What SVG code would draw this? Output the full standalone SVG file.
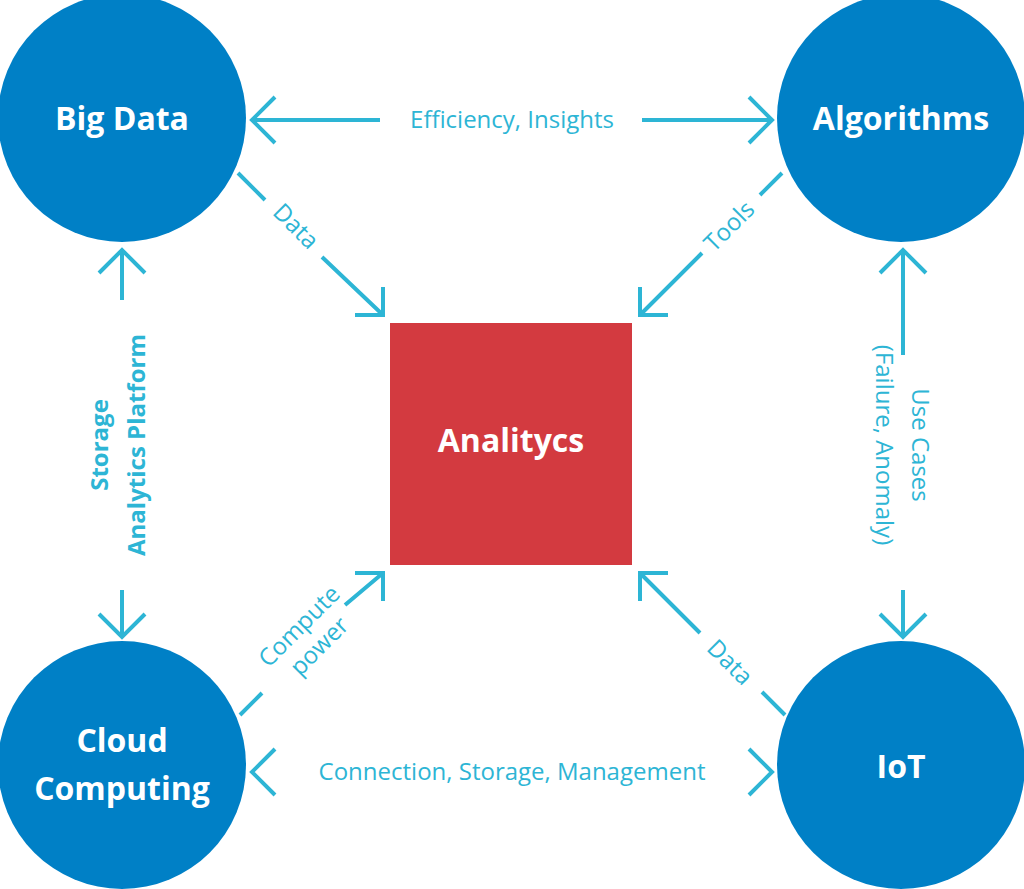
<svg xmlns="http://www.w3.org/2000/svg" width="1024" height="889" viewBox="0 0 1024 889">
<style>
.c{fill:#0080C6}
.n{font-family:"Open Sans","Liberation Sans",sans-serif;font-weight:bold;font-size:32px;fill:#fff;text-anchor:middle}
.l{font-family:"Open Sans","Liberation Sans",sans-serif;font-size:24px;fill:#2DB5D5;text-anchor:middle}
.k{stroke:#2DB5D5;stroke-width:4;fill:none}
</style>
<rect width="1024" height="889" fill="#fff"/>
<g id="bigdata"><circle class="c" cx="122" cy="118" r="124"/><text class="n" x="122" y="130">Big Data</text></g>
<g id="algorithms"><circle class="c" cx="901" cy="118" r="124"/><text class="n" x="901" y="130">Algorithms</text></g>
<g id="cloud"><circle class="c" cx="122" cy="765" r="124"/><text class="n" x="122" y="752">Cloud</text><text class="n" x="122" y="800">Computing</text></g>
<g id="iot"><circle class="c" cx="901" cy="765" r="124"/><text class="n" x="901" y="778">IoT</text></g>
<g id="analytics"><rect x="390" y="323" width="242" height="242" fill="#D33A40"/><text class="n" x="511" y="452">Analitycs</text></g>
<g id="connectors">
<path class="k" d="M275 97L252 120L275 143M252 120H380M642 120H772M749 97L772 120L749 143"/>
<text class="l" x="512" y="128">Efficiency,  Insights</text>
<path class="k" d="M275 749L252 772L275 795M749 749L772 772L749 795"/>
<text class="l" x="512" y="780">Connection, Storage, Management</text>
<path class="k" d="M99 273L122 250L145 273M122 250V300M122 590V637M99 614L122 637L145 614"/>
<text class="l" transform="translate(108,445) rotate(-90)" font-weight="bold">Storage</text>
<text class="l" transform="translate(145,445) rotate(-90)" font-weight="bold">Analytics Platform</text>
<path class="k" d="M880 273L903 250L926 273M903 250V355M903 590V637M880 614L903 637L926 614"/>
<text class="l" transform="translate(912,445) rotate(90)">Use Cases</text>
<text class="l" transform="translate(876,445) rotate(90)">(Failure, Anomaly)</text>
<path class="k" d="M238 173L265 200M322 257L383 315M355 315H383V287"/>
<text class="l" transform="translate(290,232) rotate(45)">Data</text>
<path class="k" d="M782 173L760 195M702 253L640 315M668 315H640V287"/>
<text class="l" transform="translate(735,232) rotate(-45)">Tools</text>
<path class="k" d="M240 715L262 693M345 605L383 573M355 573H383V601"/>
<text class="l" transform="translate(305,632) rotate(-45)">Compute</text>
<text class="l" transform="translate(325,652) rotate(-45)">power</text>
<path class="k" d="M785 715L762 692M700 633L640 573M668 573H640V601"/>
<text class="l" transform="translate(724,668) rotate(45)">Data</text>
</g>
</svg>
